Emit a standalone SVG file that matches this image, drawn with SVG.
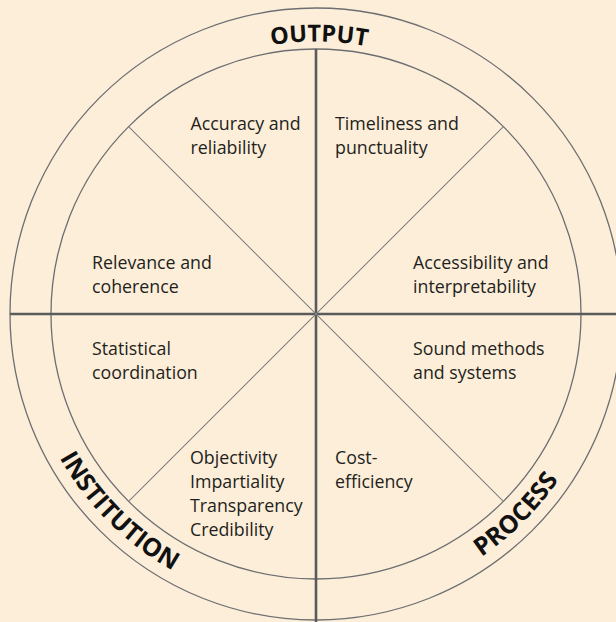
<svg xmlns="http://www.w3.org/2000/svg" width="616" height="622" viewBox="0 0 616 622">
<style>
.bg{fill:#fdeed9}
.ring{fill:none;stroke:#6d6e71;stroke-width:1.3}
.axis{stroke:#5a5b5d;stroke-width:2.6;fill:none}
.diag{stroke:#808285;stroke-width:1.1;fill:none}
.lbl{font-family:"Open Sans","Noto Sans","Liberation Sans",sans-serif;font-size:17.8px;fill:#231f20}
.dim{font-family:"Open Sans","Noto Sans","Liberation Sans",sans-serif;font-size:23.5px;font-weight:700;fill:#111}
.big{font-size:25px}
</style>
<defs>
<path id="topArc" d="M 43.5,314 A 272.5 272.5 0 0 1 588.5,314"/>
<path id="botArc" d="M 22,314 A 294 294 0 0 0 610,314"/>
</defs>
<rect class="bg" x="0" y="0" width="616" height="622"/>
<g id="wheel">
<circle class="ring" cx="316" cy="314" r="306"/>
<circle class="ring" cx="316" cy="314" r="265"/>
</g>
<g id="connectors">
<line class="axis" x1="316" y1="49" x2="316" y2="622"/>
<line class="axis" x1="10" y1="314" x2="616" y2="314"/>
<line class="diag" x1="128.6" y1="126.6" x2="503.4" y2="501.4"/>
<line class="diag" x1="503.4" y1="126.6" x2="128.6" y2="501.4"/>
</g>
<g id="dim-output"><text class="dim"><textPath href="#topArc" startOffset="431" text-anchor="middle">OUTPUT</textPath></text></g>
<g id="dim-institution"><text class="dim big"><textPath href="#botArc" startOffset="231" text-anchor="middle">INSTITUTION</textPath></text></g>
<g id="dim-process"><text class="dim big"><textPath href="#botArc" startOffset="692" text-anchor="middle">PROCESS</textPath></text></g>
<g id="accuracy"><text class="lbl" x="190.5" y="130">Accuracy and<tspan x="190.5" y="154">reliability</tspan></text></g>
<g id="timeliness"><text class="lbl" x="335" y="130">Timeliness and<tspan x="335" y="154">punctuality</tspan></text></g>
<g id="relevance"><text class="lbl" x="92" y="269">Relevance and<tspan x="92" y="293">coherence</tspan></text></g>
<g id="accessibility"><text class="lbl" x="413" y="269">Accessibility and<tspan x="413" y="293">interpretability</tspan></text></g>
<g id="coordination"><text class="lbl" x="92" y="355">Statistical<tspan x="92" y="379">coordination</tspan></text></g>
<g id="methods"><text class="lbl" x="413" y="355">Sound methods<tspan x="413" y="379">and systems</tspan></text></g>
<g id="objectivity"><text class="lbl" x="190" y="464">Objectivity<tspan x="190" y="488">Impartiality</tspan><tspan x="190" y="512">Transparency</tspan><tspan x="190" y="536">Credibility</tspan></text></g>
<g id="cost"><text class="lbl" x="335" y="464">Cost-<tspan x="335" y="488">efficiency</tspan></text></g>
</svg>
